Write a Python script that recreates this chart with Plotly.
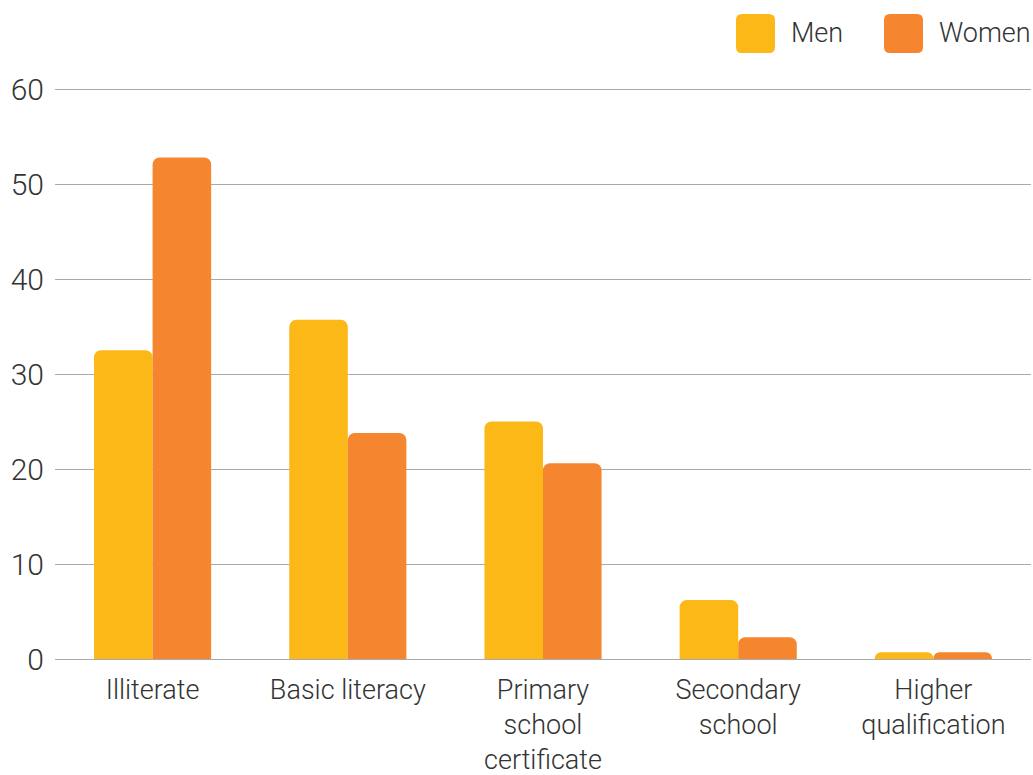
import plotly.graph_objects as go

categories = ["Illiterate", "Basic literacy", "Primary<br>school<br>certificate", "Secondary<br>school", "Higher<br>qualification"]
men = [32.5, 35.7, 25.0, 6.2, 0.7]
women = [52.8, 23.8, 20.6, 2.3, 0.7]
series_names = ["Men", "Women"]
colors = ["#FBB817", "#F5862F"]
y_ticks = [0, 10, 20, 30, 40, 50, 60]

FONT = "Roboto"
TXT = "#333333"

W, H = 1033, 775
ML, MR, MT, MB = 55, 2, 80, 116
YMAX = 60.95

fig = go.Figure()
for name, vals, col in zip(series_names, [men, women], colors):
    fig.add_trace(go.Bar(x=categories, y=vals, name=name, marker_color=col,
                         marker_line_width=0, showlegend=False))

fig.update_layout(
    width=W, height=H,
    margin=dict(l=ML, r=MR, t=MT, b=MB),
    paper_bgcolor="white", plot_bgcolor="white",
    barmode="group", bargap=0.4, bargroupgap=0,
    barcornerradius=7,
    font=dict(family=FONT, size=27, color=TXT, weight=300),
    xaxis=dict(showgrid=False, showline=False, ticks="", ticklabelstandoff=12,
               automargin=False,
               tickfont=dict(family=FONT, size=27, color=TXT, weight=300)),
    yaxis=dict(range=[0, YMAX], tickvals=y_ticks, showgrid=True, gridcolor="#AAAAAA",
               gridwidth=1, zeroline=True, zerolinecolor="#AAAAAA", zerolinewidth=1,
               showline=False, ticks="", ticklabelstandoff=10, automargin=False,
               tickfont=dict(family=FONT, size=30, color=TXT, weight=300)),
)

# Legend drawn as rounded squares + text
legend_items = [(736, "Men", colors[0]), (884, "Women", colors[1])]
sq = 39
yc = 33.5


def px(x):
    return (x - ML) / (W - ML - MR)


def py(y):
    return (H - MB - y) / (H - MT - MB)


for x0, label, col in legend_items:
    r = 6
    x1 = x0 + sq
    y0 = yc - sq / 2
    y1 = yc + sq / 2
    path = (f"M {px(x0 + r)},{py(y0)} L {px(x1 - r)},{py(y0)} "
            f"Q {px(x1)},{py(y0)} {px(x1)},{py(y0 + r)} L {px(x1)},{py(y1 - r)} "
            f"Q {px(x1)},{py(y1)} {px(x1 - r)},{py(y1)} L {px(x0 + r)},{py(y1)} "
            f"Q {px(x0)},{py(y1)} {px(x0)},{py(y1 - r)} L {px(x0)},{py(y0 + r)} "
            f"Q {px(x0)},{py(y0)} {px(x0 + r)},{py(y0)} Z")
    fig.add_shape(type="path", path=path, xref="paper", yref="paper",
                  fillcolor=col, line_width=0)
    fig.add_annotation(x=px(x1 + 14), y=py(yc), xref="paper", yref="paper",
                       text=label, showarrow=False, xanchor="left", yanchor="middle",
                       font=dict(family=FONT, size=27, color=TXT, weight=300))

fig.write_html("out.html")
